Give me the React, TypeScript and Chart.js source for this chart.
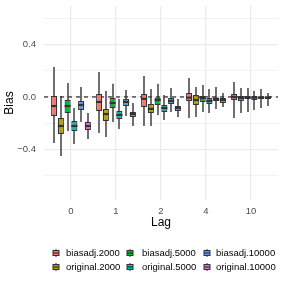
import React, { useEffect, useRef } from "react";
import { Chart, registerables } from "chart.js";
Chart.register(...registerables);

// Lag categories (x axis)
const lags = ["0", "1", "2", "4", "10"];
// Series (legend order follows ggplot columns)
const seriesNames = ["biasadj.2000", "original.2000", "biasadj.5000", "original.5000", "biasadj.10000", "original.10000"];
const seriesColors = ["#F8766D", "#B79F00", "#00BA38", "#00BFC4", "#619CFF", "#F564E3"];

// Box statistics per lag: [lower whisker, q1, median, q3, upper whisker]
const biasadj2000 = [
  [-0.35, -0.145, -0.069, 0.008, 0.229],
  [-0.274, -0.107, -0.038, 0.023, 0.19],
  [-0.221, -0.076, -0.015, 0.023, 0.16],
  [-0.16, -0.03, -0.005, 0.03, 0.145],
  [-0.16, -0.023, 0.0, 0.023, 0.114],
];
const original2000 = [
  [-0.45, -0.282, -0.221, -0.16, 0.008],
  [-0.305, -0.183, -0.13, -0.091, 0.046],
  [-0.221, -0.122, -0.091, -0.053, 0.061],
  [-0.152, -0.061, -0.023, 0.015, 0.076],
  [-0.122, -0.03, -0.008, 0.008, 0.069],
];
const biasadj5000 = [
  [-0.26, -0.122, -0.069, -0.023, 0.107],
  [-0.19, -0.084, -0.046, -0.008, 0.1],
  [-0.137, -0.061, -0.023, 0.0, 0.1],
  [-0.114, -0.038, -0.008, 0.008, 0.091],
  [-0.114, -0.015, -0.005, 0.008, 0.069],
];
const original5000 = [
  [-0.358, -0.259, -0.221, -0.183, -0.084],
  [-0.244, -0.168, -0.137, -0.107, -0.015],
  [-0.175, -0.114, -0.084, -0.061, 0.015],
  [-0.122, -0.053, -0.03, -0.008, 0.061],
  [-0.099, -0.023, -0.005, 0.008, 0.046],
];
const biasadj10000 = [
  [-0.19, -0.099, -0.061, -0.03, 0.076],
  [-0.145, -0.069, -0.038, -0.015, 0.053],
  [-0.114, -0.053, -0.03, -0.008, 0.069],
  [-0.091, -0.03, -0.015, 0.0, 0.076],
  [-0.084, -0.015, -0.004, 0.004, 0.061],
];
const original10000 = [
  [-0.32, -0.251, -0.221, -0.19, -0.122],
  [-0.221, -0.152, -0.13, -0.114, -0.046],
  [-0.152, -0.107, -0.084, -0.069, -0.015],
  [-0.076, -0.046, -0.023, -0.008, 0.03],
  [-0.069, -0.015, -0.004, 0.004, 0.03],
];
const seriesStats = [biasadj2000, original2000, biasadj5000, original5000, biasadj10000, original10000];

// Axis limits (ggplot trained range incl. hidden outliers + expansion)
const yMin = -0.785;
const yMax = 0.693;
const yTickLabels: Record<string, string> = { "-0.4": "\u22120.4", "0": "0.0", "0.4": "0.4" };

// legend layout: column order
const legendColumns = [
  [0, 1],
  [2, 3],
  [4, 5],
];

const FONT = "'Liberation Sans', Arial, Helvetica, sans-serif";
const LINE = "#333333";

const extrasPlugin = {
  id: "boxExtras",
  beforeDatasetsDraw(chart: any) {
    const { ctx, chartArea, scales } = chart;
    const y = scales.y;
    const y0 = y.getPixelForValue(0);
    ctx.save();
    ctx.strokeStyle = "#000000";
    ctx.lineWidth = 1;
    ctx.setLineDash([4, 4]);
    ctx.beginPath();
    ctx.moveTo(chartArea.left, y0);
    ctx.lineTo(chartArea.right, y0);
    ctx.stroke();
    ctx.setLineDash([]);
    // whiskers
    ctx.strokeStyle = LINE;
    ctx.lineWidth = 1.4;
    chart.data.datasets.forEach((ds: any, di: number) => {
      const meta = chart.getDatasetMeta(di);
      meta.data.forEach((el: any, i: number) => {
        const s = seriesStats[di][i];
        const x = Math.round(el.x);
        ctx.beginPath();
        ctx.moveTo(x, y.getPixelForValue(s[0]));
        ctx.lineTo(x, y.getPixelForValue(s[4]));
        ctx.stroke();
      });
    });
    ctx.restore();
  },
  afterDatasetsDraw(chart: any) {
    const { ctx, scales } = chart;
    const y = scales.y;
    ctx.save();
    ctx.strokeStyle = LINE;
    ctx.lineWidth = 2.2;
    chart.data.datasets.forEach((ds: any, di: number) => {
      const meta = chart.getDatasetMeta(di);
      meta.data.forEach((el: any, i: number) => {
        const s = seriesStats[di][i];
        const ym = y.getPixelForValue(s[2]);
        const w = el.width;
        ctx.beginPath();
        ctx.moveTo(el.x - w / 2, ym);
        ctx.lineTo(el.x + w / 2, ym);
        ctx.stroke();
      });
    });
    ctx.restore();
  },
  afterDraw(chart: any) {
    const { ctx, chartArea } = chart;
    ctx.save();
    // axis titles
    ctx.fillStyle = "#000000";
    ctx.font = `12px ${FONT}`;
    ctx.textAlign = "center";
    ctx.textBaseline = "middle";
    ctx.fillText("Lag", (chartArea.left + chartArea.right) / 2, 223);
    ctx.save();
    ctx.translate(10, (chartArea.top + chartArea.bottom) / 2);
    ctx.rotate(-Math.PI / 2);
    ctx.fillText("Bias", 0, 0);
    ctx.restore();
    // legend
    const glyphX = [56, 130, 207];
    const textX = [66, 142, 216];
    const rowY = [253, 267];
    ctx.font = `9.5px ${FONT}`;
    ctx.textAlign = "left";
    legendColumns.forEach((col, ci) => {
      col.forEach((si, ri) => {
        const cx = glyphX[ci];
        const cy = rowY[ri];
        ctx.strokeStyle = LINE;
        ctx.lineWidth = 1;
        ctx.beginPath();
        ctx.moveTo(cx, cy - 4);
        ctx.lineTo(cx, cy + 4);
        ctx.stroke();
        ctx.fillStyle = seriesColors[si];
        ctx.fillRect(cx - 3, cy - 2.5, 6, 5);
        ctx.strokeRect(cx - 3, cy - 2.5, 6, 5);
        ctx.lineWidth = 1.2;
        ctx.beginPath();
        ctx.moveTo(cx - 3, cy);
        ctx.lineTo(cx + 3, cy);
        ctx.stroke();
        ctx.fillStyle = "#000000";
        ctx.fillText(seriesNames[si], textX[ci], cy + 0.5);
      });
    });
    ctx.restore();
  },
};

export default function App() {
  const ref = useRef<HTMLCanvasElement | null>(null);
  useEffect(() => {
    if (!ref.current) return;
    const datasets = seriesNames.map((name, si) => ({
      label: name,
      data: seriesStats[si].map((s, li) => ({ x: li, y: [s[1], s[3]] })),
      backgroundColor: seriesColors[si],
      borderColor: LINE,
      borderWidth: 1.2,
      borderSkipped: false,
      categoryPercentage: 0.9,
      barPercentage: 0.9,
    }));
    const chart = new Chart(ref.current, {
      type: "bar",
      data: { datasets: datasets as any },
      options: {
        animation: false,
        responsive: false,
        maintainAspectRatio: false,
        layout: { padding: { top: 6, right: 6, left: 0, bottom: 0 } },
        plugins: { legend: { display: false }, tooltip: { enabled: false }, title: { display: false } },
        scales: {
          x: {
            type: "linear",
            min: -0.6,
            max: 4.6,
            offset: false,
            afterFit: (s: any) => {
              s.height = 84;
              s.paddingLeft = 0;
              s.paddingRight = 0;
            },
            border: { display: false },
            grid: { offset: false, drawTicks: false, color: "#EBEBEB", lineWidth: 1.3 },
            ticks: {
              stepSize: 1,
              includeBounds: false,
              autoSkip: false,
              maxRotation: 0,
              padding: 6,
              color: "#4D4D4D",
              font: { size: 9.5, family: FONT },
              callback: (v: any) => {
                const i = Math.round(Number(v));
                return Math.abs(Number(v) - i) < 1e-6 && lags[i] !== undefined ? lags[i] : "";
              },
            },
          },
          y: {
            type: "linear",
            min: yMin,
            max: yMax,
            afterFit: (s: any) => {
              s.width = 44;
              s.paddingTop = 0;
              s.paddingBottom = 0;
            },
            border: { display: false },
            grid: {
              drawTicks: false,
              color: "#EBEBEB",
              lineWidth: (c: any) => {
                const v = c.tick ? c.tick.value : 0;
                const k = Math.round(v * 10);
                return k % 4 === 0 ? 1.3 : 0.65;
              },
            },
            ticks: {
              stepSize: 0.2,
              includeBounds: false,
              autoSkip: false,
              padding: 8,
              color: "#4D4D4D",
              font: { size: 9.5, family: FONT },
              callback: (v: any) => {
                const k = Math.round(Number(v) * 10) / 10;
                const key = String(k === 0 ? 0 : k);
                return yTickLabels[key] ?? "";
              },
            },
          },
        },
      },
      plugins: [extrasPlugin],
    });
    return () => chart.destroy();
  }, []);
  return (
    <div style={{ position: "fixed", left: 0, top: 0, width: 284, height: 284, background: "#ffffff" }}>
      <canvas ref={ref} width={284} height={284} style={{ display: "block", width: 284, height: 284 }} />
    </div>
  );
}
